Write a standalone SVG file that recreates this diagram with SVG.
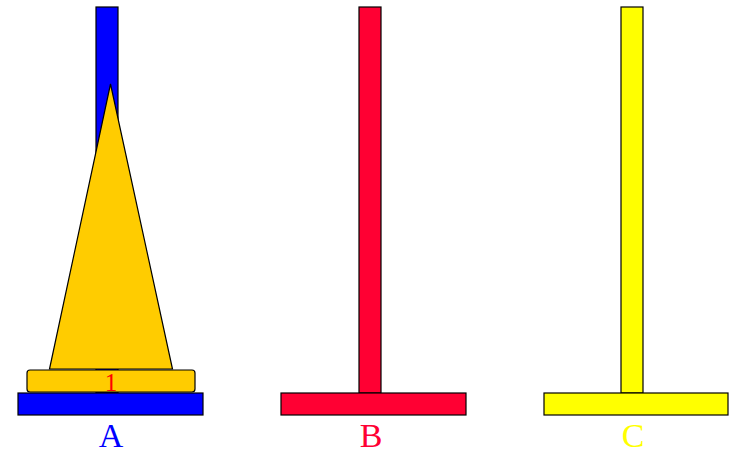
<svg xmlns="http://www.w3.org/2000/svg" width="731" height="453" viewBox="0 0 731 453">
<style>
.s{stroke:#000;stroke-width:1.2}
.lbl{font-family:"Liberation Serif",serif;font-size:34px;text-anchor:middle}
</style>
<rect width="731" height="453" fill="#fff"/>
<g id="towerA">
<rect class="s" x="96" y="7" width="22" height="386" fill="#0000ff"/>
<rect class="s" x="18" y="393" width="185" height="22" fill="#0000ff"/>
<text class="lbl" x="111" y="447" fill="#0000ff">A</text>
</g>
<g id="towerB">
<rect class="s" x="359" y="7" width="22" height="386" fill="#ff0033"/>
<rect class="s" x="281" y="393" width="185" height="22" fill="#ff0033"/>
<text class="lbl" x="371" y="447" fill="#ff0033">B</text>
</g>
<g id="towerC">
<rect class="s" x="621" y="7" width="22" height="386" fill="#ffff00"/>
<rect class="s" x="544" y="393" width="184" height="22" fill="#ffff00"/>
<text class="lbl" x="633" y="447" fill="#ffff00">C</text>
</g>
<g id="disk1">
<polygon class="s" points="110.5,84 172.5,369 49.5,369" fill="#ffcc00"/>
<rect class="s" x="27" y="370" width="168" height="22" rx="3" fill="#ffcc00"/>
<text x="111" y="391" fill="#ff0000" font-family="Liberation Serif,serif" font-size="25" text-anchor="middle">1</text>
</g>
</svg>
